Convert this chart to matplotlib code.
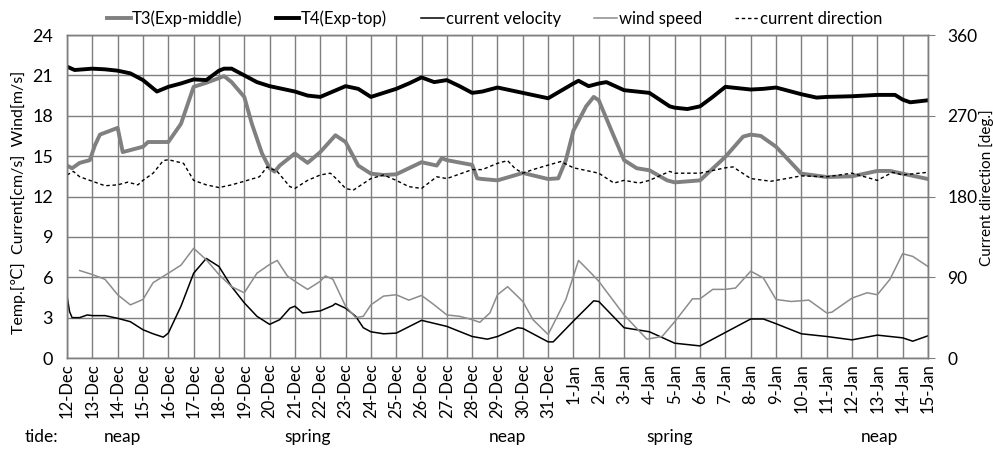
import matplotlib.pyplot as plt
from matplotlib.transforms import blended_transform_factory

plt.rcParams['font.family'] = ['Lato', 'DejaVu Sans']

# day labels, 12-Dec .. 15-Jan
dates = [f"{d}-Dec" for d in range(12, 32)] + [f"{d}-Jan" for d in range(1, 16)]

# T3 (Exp-middle), left axis
t3_day = [0, 0.2, 0.5, 0.9, 1.1, 1.3, 2.0, 2.2, 2.5, 3.0, 3.2, 4.0, 4.5, 5.0, 5.5, 6.0,
          6.2, 6.5, 7.0, 7.3, 7.7, 8.0, 8.2, 8.4, 9.0, 9.5, 10.0, 10.6, 11.0, 11.5,
          12.0, 12.5, 13.0, 14.0, 14.6, 14.8, 15.0, 16.0, 16.2, 16.4, 17.0, 18.0,
          19.0, 19.4, 19.7, 20.0, 20.5, 20.8, 21.0, 21.5, 22.0, 22.5, 23.0, 23.7,
          24.0, 25.0, 26.0, 26.7, 27.0, 27.4, 28.0, 29.0, 30.0, 31.0, 32.0, 32.5,
          33.0, 34.0]
t3_val = [14.3, 14.1, 14.5, 14.7, 15.8, 16.6, 17.1, 15.3, 15.45, 15.7, 16.05, 16.05,
          17.4, 20.15, 20.45, 20.8, 20.95, 20.5, 19.4, 17.4, 15.2, 14.1, 13.85, 14.3,
          15.2, 14.5, 15.3, 16.55, 16.05, 14.3, 13.7, 13.6, 13.65, 14.55, 14.3, 14.85,
          14.7, 14.35, 13.35, 13.3, 13.2, 13.75, 13.3, 13.35, 14.7, 16.9, 18.7, 19.4,
          19.15, 16.9, 14.7, 14.1, 13.95, 13.2, 13.05, 13.2, 14.95, 16.45, 16.6, 16.5,
          15.7, 13.7, 13.45, 13.5, 13.9, 13.9, 13.7, 13.3]

# T4 (Exp-top), left axis
t4_day = [0, 0.3, 1.0, 1.5, 2.0, 2.5, 3.0, 3.55, 4.0, 4.5, 5.0, 5.5, 6.0, 6.2, 6.5,
          7.0, 7.5, 8.0, 8.5, 9.0, 9.5, 10.0, 10.5, 11.0, 11.5, 12.0, 12.5, 13.0,
          13.5, 14.0, 14.5, 15.0, 15.5, 16.0, 16.4, 17.0, 18.0, 19.0, 20.0, 20.2,
          20.6, 21.0, 21.3, 22.0, 23.0, 23.8, 24.0, 24.5, 25.0, 25.5, 26.0, 27.0,
          27.5, 28.0, 29.0, 29.6, 30.0, 31.0, 32.0, 32.7, 33.0, 33.3, 34.0]
t4_val = [21.65, 21.4, 21.5, 21.45, 21.35, 21.15, 20.65, 19.8, 20.15, 20.4, 20.7,
          20.65, 21.35, 21.5, 21.5, 21.0, 20.5, 20.2, 20.0, 19.8, 19.5, 19.4, 19.8,
          20.2, 20.0, 19.4, 19.7, 20.0, 20.4, 20.85, 20.5, 20.65, 20.2, 19.7, 19.8,
          20.1, 19.7, 19.3, 20.4, 20.6, 20.2, 20.4, 20.5, 19.9, 19.7, 18.7, 18.6,
          18.5, 18.7, 19.4, 20.15, 19.95, 20.0, 20.1, 19.6, 19.35, 19.4, 19.45, 19.55,
          19.55, 19.2, 19.0, 19.15]

# current velocity, left axis
cv_day = [0, 0.1, 0.2, 0.5, 0.8, 1.0, 1.5, 2.0, 2.5, 3.0, 3.4, 3.8, 4.0, 4.5, 5.0,
          5.5, 6.0, 6.5, 7.0, 7.5, 8.0, 8.4, 8.8, 9.0, 9.3, 10.0, 10.5, 10.6, 11.0,
          11.4, 11.7, 12.0, 12.5, 13.0, 14.0, 15.0, 16.0, 16.6, 17.0, 17.8, 18.0,
          19.0, 19.2, 20.0, 20.8, 21.0, 22.0, 23.0, 24.0, 25.0, 26.0, 27.0, 27.5,
          28.0, 29.0, 30.0, 31.0, 32.0, 33.0, 33.4, 34.0]
cv_val = [4.6, 3.45, 3.0, 3.0, 3.2, 3.15, 3.15, 2.95, 2.7, 2.1, 1.8, 1.55, 1.85, 3.85,
          6.3, 7.4, 6.8, 5.3, 4.1, 3.1, 2.5, 2.85, 3.7, 3.85, 3.35, 3.5, 3.9, 4.05,
          3.7, 3.1, 2.25, 1.95, 1.8, 1.85, 2.8, 2.35, 1.6, 1.4, 1.6, 2.25, 2.2, 1.2,
          1.2, 2.75, 4.25, 4.2, 2.25, 1.95, 1.1, 0.9, 1.9, 2.9, 2.9, 2.55, 1.8, 1.6,
          1.35, 1.7, 1.5, 1.25, 1.65]

# wind speed, left axis
ws_day = [0.5, 1.0, 1.5, 2.0, 2.5, 3.0, 3.4, 4.0, 4.5, 5.0, 5.5, 6.0, 6.5, 7.0, 7.5,
          8.0, 8.3, 8.7, 9.0, 9.5, 10.0, 10.2, 10.5, 11.0, 11.4, 11.7, 12.0, 12.5,
          13.0, 13.5, 14.0, 14.5, 15.0, 15.5, 16.0, 16.3, 16.7, 17.0, 17.4, 18.0,
          18.4, 19.0, 19.7, 20.2, 20.7, 21.0, 22.0, 22.9, 23.5, 24.0, 24.7, 25.0,
          25.5, 26.0, 26.4, 27.0, 27.5, 28.0, 28.6, 29.3, 30.0, 30.2, 31.0, 31.6,
          32.0, 32.5, 33.0, 33.4, 34.0]
ws_val = [6.5, 6.2, 5.85, 4.7, 3.95, 4.35, 5.6, 6.3, 6.9, 8.15, 7.3, 6.2, 5.3, 4.85,
          6.3, 6.95, 7.25, 6.1, 5.7, 5.1, 5.7, 6.1, 5.85, 3.85, 3.0, 3.1, 3.95, 4.6,
          4.7, 4.3, 4.65, 3.95, 3.2, 3.1, 2.85, 2.65, 3.35, 4.7, 5.3, 4.2, 2.85, 1.75,
          4.35, 7.25, 6.3, 5.7, 3.2, 1.4, 1.6, 2.7, 4.4, 4.4, 5.1, 5.1, 5.2, 6.45,
          5.95, 4.35, 4.2, 4.3, 3.35, 3.4, 4.45, 4.85, 4.7, 5.85, 7.75, 7.55, 6.8]

# current direction [deg], right axis
cd_day = [0, 0.25, 0.5, 1.0, 1.5, 2.0, 2.4, 2.8, 3.0, 3.4, 3.8, 4.0, 4.6, 5.0, 5.5,
          6.0, 6.5, 7.0, 7.6, 7.9, 8.3, 8.8, 9.0, 9.5, 10.0, 10.4, 10.7, 11.0, 11.3,
          12.0, 12.5, 13.0, 13.5, 14.0, 14.6, 15.0, 16.0, 16.4, 17.0, 17.4, 17.7,
          18.0, 18.4, 19.0, 19.5, 20.0, 21.0, 21.6, 22.0, 22.6, 23.0, 23.8, 24.0,
          25.0, 26.0, 26.3, 27.0, 27.8, 28.0, 29.0, 30.0, 31.0, 32.0, 32.6, 33.0,
          34.0]
cd_val = [204, 208, 202, 197, 192, 193, 196, 193, 198, 206, 220, 221, 217, 198, 193,
          190, 193, 197, 202, 213, 208, 191, 189, 198, 204, 206, 198, 189, 187, 200,
          204, 198, 191, 189, 202, 200, 210, 210, 217, 220, 211, 206, 210, 215, 219,
          212, 206, 195, 198, 195, 198, 208, 206, 206, 212, 213, 200, 197, 198, 203,
          202, 206, 198, 207, 204, 207]

tide_days = [2.2, 9.5, 17.4, 23.8, 32.1]
tide_text = ["neap", "spring", "neap", "spring", "neap"]

fig = plt.figure(figsize=(9.93, 4.5), dpi=100)
ax = fig.add_axes([0.0675, 0.2044, 0.867, 0.7178])
ax2 = ax.twinx()

grid_c = '#7f7f7f'
h3, = ax.plot(t3_day, t3_val, color='#808080', lw=2.8, label='T3(Exp-middle)')
h4, = ax.plot(t4_day, t4_val, color='black', lw=2.8, label='T4(Exp-top)')
hv, = ax.plot(cv_day, cv_val, color='black', lw=1.1, label='current velocity')
hw, = ax.plot(ws_day, ws_val, color='#8c8c8c', lw=1.1, label='wind speed')
hd, = ax2.plot(cd_day, cd_val, color='black', lw=1.0, ls=(0, (2.5, 2)),
               label='current direction')

ax.set_xlim(0, len(dates) - 1)
ax.set_ylim(0, 24)
ax.set_yticks(range(0, 25, 3))
ax.set_xticks(range(len(dates)))
ax.set_xticklabels(dates, rotation=90, fontsize=12)
ax.tick_params(axis='x', length=0, pad=4)
ax.tick_params(axis='y', length=0, labelsize=13, pad=10)
ax.grid(True, color=grid_c, lw=1.0)
ax.set_axisbelow(True)

ax2.set_ylim(0, 360)
ax2.set_yticks(range(0, 361, 90))
ax2.tick_params(axis='y', length=5, color=grid_c, labelsize=12.5, pad=9)

for a in (ax, ax2):
    for s in a.spines.values():
        s.set_color(grid_c)
        s.set_linewidth(1.0)

# axis titles placed by hand so they stay inside the figure
fig.text(0.019, 0.551, 'Temp.[\u2103]  Current[cm/s]  Wind[m/s]', fontsize=11.5,
         rotation=90, ha='center', va='center')
fig.text(0.993, 0.582, 'Current direction [deg.]', fontsize=11,
         rotation=90, ha='center', va='center')

fig.legend(handles=[h3, h4, hv, hw, hd], loc='upper center', bbox_to_anchor=(0.4985, 1.01),
           ncol=5, frameon=False, fontsize=12, handlelength=1.4, handletextpad=0.1,
           columnspacing=2.0)

# tide row under the dates
tr = blended_transform_factory(ax.transData, fig.transFigure)
fig.text(0.042, 0.028, 'tide:', fontsize=12.5, ha='center', va='center')
for d, t in zip(tide_days, tide_text):
    ax.text(d, 0.028, t, transform=tr, fontsize=12.5, ha='center', va='center')

fig.savefig('out.png', dpi=100)
